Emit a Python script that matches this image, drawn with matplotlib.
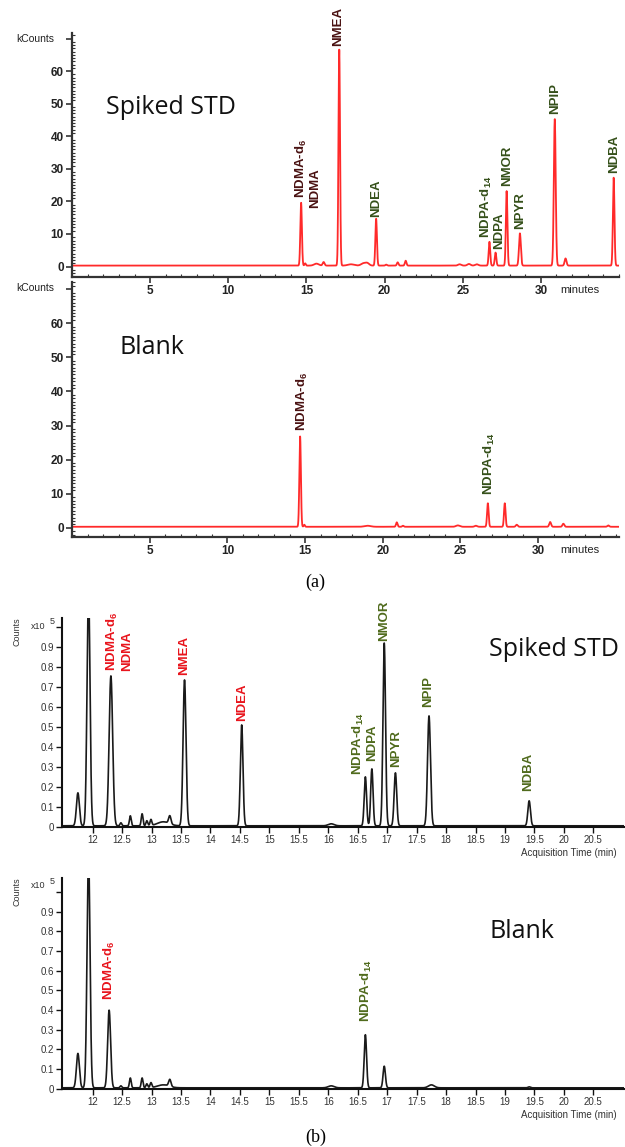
import numpy as np
import matplotlib
matplotlib.use('Agg')
import matplotlib.pyplot as plt
from matplotlib.ticker import MultipleLocator

plt.rcParams['font.family'] = ['Liberation Sans', 'DejaVu Sans']
plt.rcParams['mathtext.fontset'] = 'custom'
plt.rcParams['mathtext.rm'] = 'Liberation Sans:bold'
plt.rcParams['mathtext.it'] = 'Liberation Sans:bold'
plt.rcParams['mathtext.bf'] = 'Liberation Sans:bold'

# ---- (a) GC trace, minutes vs kCounts ----
a_std_rt = [14.66, 14.92, 15.64, 16.10, 17.10, 17.85, 18.65, 18.9, 19.46, 20.10, 20.84, 21.35,
            24.8, 25.4, 25.9, 26.71, 27.10, 27.81, 28.66, 30.89, 31.58, 34.66]
a_std_h = [19.3, 0.7, 0.6, 1.1, 66.3, 0.4, 0.7, 0.7, 14.4, 0.3, 1.0, 1.5,
           0.4, 0.5, 0.4, 7.3, 4.0, 22.9, 9.9, 45.0, 2.2, 27.0]
a_std_w = [0.05, 0.04, 0.15, 0.06, 0.05, 0.2, 0.15, 0.12, 0.05, 0.05, 0.05, 0.05,
           0.1, 0.1, 0.1, 0.05, 0.05, 0.05, 0.06, 0.06, 0.06, 0.05]

a_blk_rt = [14.68, 14.95, 19.02, 20.9, 21.3, 24.83, 25.99, 26.76, 27.85, 28.62, 30.77, 31.62, 34.51]
a_blk_h = [26.5, 0.6, 0.3, 1.3, 0.3, 0.4, 0.3, 6.9, 6.9, 0.6, 1.4, 0.9, 0.4]
a_blk_w = [0.05, 0.04, 0.2, 0.05, 0.05, 0.12, 0.08, 0.05, 0.05, 0.06, 0.06, 0.06, 0.06]
a_base = 0.3

a_std_lab = ['NDMA-d$_6$', 'NDMA', 'NMEA', 'NDEA', 'NDPA-d$_{14}$', 'NDPA', 'NMOR', 'NPYR', 'NPIP', 'NDBA']
a_std_lab_x = [14.66, 15.56, 17.05, 19.46, 26.55, 27.33, 27.81, 28.66, 30.89, 34.66]
a_std_lab_y = [21.0, 17.9, 67.7, 15.3, 8.7, 5.3, 24.7, 11.5, 46.8, 28.8]
a_std_lab_grp = [0, 0, 0, 1, 1, 1, 1, 1, 1, 1]

a_blk_lab = ['NDMA-d$_6$', 'NDPA-d$_{14}$']
a_blk_lab_x = [14.81, 26.84]
a_blk_lab_y = [28.5, 9.6]
a_blk_lab_grp = [0, 1]

a_yticks = [0, 10, 20, 30, 40, 50, 60, 70]
a_xticks = [5, 10, 15, 20, 25, 30]

# ---- (b) trace, Acquisition Time (min) vs Counts x10^5 ----
b_std_rt = [11.75, 11.93, 12.31, 12.48, 12.64, 12.84, 12.92, 12.99, 13.2, 13.31, 13.56, 14.53,
            16.05, 16.63, 16.74, 16.95, 17.14, 17.71, 19.41]
b_std_h = [0.165, 1.2, 0.75, 0.015, 0.05, 0.06, 0.025, 0.03, 0.02, 0.04, 0.73, 0.505,
           0.01, 0.245, 0.285, 0.915, 0.265, 0.55, 0.125]
b_std_w = [0.025, 0.025, 0.03, 0.015, 0.015, 0.015, 0.015, 0.015, 0.1, 0.02, 0.025, 0.022,
           0.05, 0.02, 0.02, 0.022, 0.022, 0.025, 0.022]

b_blk_rt = [11.75, 11.93, 12.28, 12.48, 12.64, 12.84, 12.92, 12.99, 13.2, 13.31, 16.05, 16.63, 16.95, 17.75, 19.41]
b_blk_h = [0.175, 1.2, 0.395, 0.01, 0.05, 0.05, 0.02, 0.025, 0.015, 0.035, 0.01, 0.27, 0.11, 0.015, 0.005]
b_blk_w = [0.025, 0.025, 0.025, 0.015, 0.015, 0.015, 0.015, 0.015, 0.1, 0.02, 0.05, 0.02, 0.02, 0.05, 0.02]
b_base = 0.004

b_std_lab = ['NDMA-d$_6$', 'NDMA', 'NMEA', 'NDEA', 'NDPA-d$_{14}$', 'NDPA', 'NMOR', 'NPYR', 'NPIP', 'NDBA']
b_std_lab_x = [12.33, 12.58, 13.56, 14.53, 16.52, 16.74, 16.95, 17.15, 17.69, 19.39]
b_std_lab_y = [0.78, 0.78, 0.76, 0.53, 0.26, 0.33, 0.93, 0.30, 0.60, 0.18]
b_std_lab_grp = [0, 0, 0, 0, 1, 1, 1, 1, 1, 1]

b_blk_lab = ['NDMA-d$_6$', 'NDPA-d$_{14}$']
b_blk_lab_x = [12.29, 16.64]
b_blk_lab_y = [0.45, 0.34]
b_blk_lab_grp = [0, 1]

b_yticks = [0, 0.1, 0.2, 0.3, 0.4, 0.5, 0.6, 0.7, 0.8, 0.9, 1.0]
b_ytick_labels = ['0', '0.1', '0.2', '0.3', '0.4', '0.5', '0.6', '0.7', '0.8', '0.9', '']
b_xticks = [12, 12.5, 13, 13.5, 14, 14.5, 15, 15.5, 16, 16.5, 17, 17.5, 18, 18.5, 19, 19.5, 20, 20.5]

a_colors = ['#4a1212', '#35501a']
b_colors = ['#e8141c', '#4f6a1c']

W, H = 625, 1147


def trace(t, rt, h, w, base):
    y = np.full_like(t, base)
    for r, hh, ww in zip(rt, h, w):
        y += hh * np.exp(-0.5 * ((t - r) / ww) ** 2)
    return y


def box(left, top, right, bottom):
    return [left / W, 1 - bottom / H, (right - left) / W, (bottom - top) / H]


fig = plt.figure(figsize=(W / 100, H / 100), dpi=100)


def panel_a(rect, rt, h, w, labs, lx, ly, lg, ylim, xmax, name, name_xy, min_y):
    ax = fig.add_axes(box(*rect))
    ax.patch.set_alpha(0)
    t = np.linspace(0, xmax, 6000)
    ax.plot(t, trace(t, rt, h, w, a_base), color='#ff2a2a', lw=1.3)
    ax.set_xlim(0, xmax)
    ax.set_ylim(*ylim)
    for s in ['top', 'right']:
        ax.spines[s].set_visible(False)
    for s in ['left', 'bottom']:
        ax.spines[s].set_linewidth(1.6)
        ax.spines[s].set_color('#333333')
    ax.set_yticks(a_yticks)
    ax.set_yticklabels([str(v) for v in a_yticks[:-1]] + [''])
    ax.set_xticks(a_xticks)
    ax.yaxis.set_minor_locator(MultipleLocator(1))
    ax.xaxis.set_minor_locator(MultipleLocator(1))
    ax.tick_params(which='major', direction='out', length=4, width=1.2, color='#333333',
                   labelsize=8.5, labelcolor='#222222', pad=2)
    ax.tick_params(which='minor', direction='in', length=2.5, width=0.8, color='#333333')
    for lab in ax.get_xticklabels() + ax.get_yticklabels():
        lab.set_fontweight('bold')
    for s, x, y, g in zip(labs, lx, ly, lg):
        ax.text(x, y, s, rotation=90, ha='center', va='bottom', fontsize=9.5,
                fontweight='bold', color=a_colors[g])
    fig.text(name_xy[0] / W, 1 - name_xy[1] / H, name, fontsize=18, family='Open Sans',
             ha='left', va='center', color='#111111')
    fig.text(35 / W, 1 - (rect[1] + 6) / H, 'kCounts', fontsize=7.5, ha='center', va='center',
             color='#222222')
    fig.text(580 / W, 1 - min_y / H, 'minutes', fontsize=8, ha='center', va='center',
             color='#222222')
    return ax


def panel_b(rect, rt, h, w, labs, lx, ly, lg, ylim, name, name_xy):
    ax = fig.add_axes(box(*rect))
    ax.patch.set_alpha(0)
    t = np.linspace(11.4, 21.1, 6000)
    ax.plot(t, trace(t, rt, h, w, b_base), color='#1a1a1a', lw=1.2)
    ax.set_xlim(11.48, 21.02)
    ax.set_ylim(*ylim)
    for s in ['top', 'right']:
        ax.spines[s].set_visible(False)
    for s in ['left', 'bottom']:
        ax.spines[s].set_linewidth(1.5)
        ax.spines[s].set_color('#111111')
    ax.set_yticks(b_yticks)
    ax.set_yticklabels(b_ytick_labels)
    ax.set_xticks(b_xticks)
    ax.set_xticklabels([('%g' % v) for v in b_xticks])
    ax.tick_params(direction='out', length=4, width=1.0, color='#111111',
                   labelsize=7, labelcolor='#333333', pad=2)
    for s, x, y, g in zip(labs, lx, ly, lg):
        ax.text(x, y, s, rotation=90, ha='center', va='bottom', fontsize=9.5,
                fontweight='bold', color=b_colors[g])
    fig.text(name_xy[0] / W, 1 - name_xy[1] / H, name, fontsize=18, family='Open Sans',
             ha='left', va='center', color='#111111')
    top = rect[1]
    bot = rect[3]
    fig.text(17 / W, 1 - (top + 14) / H, 'Counts', fontsize=6.5, rotation=90,
             ha='center', va='center', color='#333333')
    fig.text(38 / W, 1 - (top + 8) / H, 'x10', fontsize=6.5, ha='center', va='center',
             color='#333333')
    fig.text(52 / W, 1 - (top + 3) / H, '5', fontsize=6.5, ha='center', va='center',
             color='#333333')
    fig.text(617 / W, 1 - (bot + 26) / H, 'Acquisition Time (min)', fontsize=7,
             ha='right', va='center', color='#333333')
    return ax


panel_a((72, 33, 619, 277), a_std_rt, a_std_h, a_std_w, a_std_lab, a_std_lab_x, a_std_lab_y,
        a_std_lab_grp, (-3.2, 71.7), 35.0, 'Spiked STD', (106, 107), 290)
panel_a((72, 282, 619, 537), a_blk_rt, a_blk_h, a_blk_w, a_blk_lab, a_blk_lab_x, a_blk_lab_y,
        a_blk_lab_grp, (-2.7, 72.1), 35.2, 'Blank', (119, 348), 550)

panel_b((62, 618, 624, 827), b_std_rt, b_std_h, b_std_w, b_std_lab, b_std_lab_x, b_std_lab_y,
        b_std_lab_grp, (-0.002, 1.044), 'Spiked STD', (489, 650))
panel_b((62, 878, 624, 1089), b_blk_rt, b_blk_h, b_blk_w, b_blk_lab, b_blk_lab_x, b_blk_lab_y,
        b_blk_lab_grp, (-0.002, 1.071), 'Blank', (489, 931))

fig.text(0.505, 1 - 582 / H, '(a)', fontsize=13, family='Liberation Serif', ha='center', va='center')
fig.text(0.505, 1 - 1137 / H, '(b)', fontsize=13, family='Liberation Serif', ha='center', va='center')

fig.savefig('out.png', dpi=100)
